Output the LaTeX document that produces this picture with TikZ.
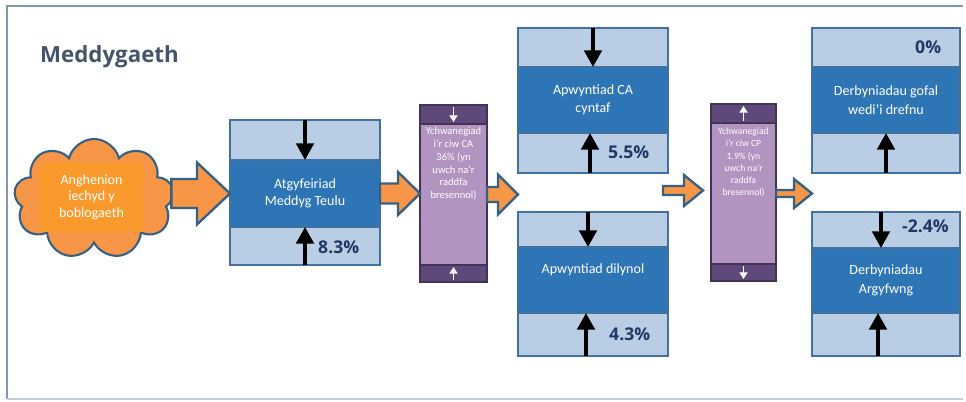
\documentclass[tikz,border=0pt]{standalone}
\usepackage{fontspec}
\setmainfont{Carlito}
\newfontfamily\headfont{Open Sans}
\usetikzlibrary{positioning, calc, arrows.meta, shapes.symbols}
\definecolor{bandlt}{HTML}{B9CDE5}
\definecolor{banddk}{HTML}{2E75B6}
\definecolor{edgeblue}{HTML}{41719C}
\definecolor{pudark}{HTML}{5F497A}
\definecolor{pulight}{HTML}{B294C0}
\definecolor{orangefill}{HTML}{F79646}
\definecolor{orangein}{HTML}{FB9A2C}
\definecolor{titlegrey}{HTML}{44546A}
\definecolor{pctblue}{HTML}{203864}
\definecolor{framegrey}{HTML}{8497B0}

\tikzset{
  band/.style={rectangle, draw=edgeblue, fill=bandlt, line width=1.2pt, minimum width=4.5cm, inner sep=0pt, outer sep=0pt},
  core/.style={rectangle, draw=edgeblue, fill=banddk, line width=1.2pt, minimum width=4.5cm, inner sep=0pt, outer sep=0pt, text=white, align=center, font=\fontsize{12}{15}\selectfont},
  puband/.style={rectangle, draw=pudark!70!black, fill=pudark, line width=1pt, inner sep=0pt, outer sep=0pt},
  pumid/.style={rectangle, draw=pudark!70!black, fill=pulight, line width=1pt, inner sep=0pt, outer sep=0pt},
  putext/.style={text=white, align=center, inner sep=0pt},
  pct/.style={text=pctblue, font=\headfont\bfseries\fontsize{15}{18}\selectfont, anchor=west, inner sep=0pt},
  blk/.style={line width=3.4pt, -{Triangle[width=0.52cm,length=0.5cm]}},
  wht/.style={white, line width=1.6pt, -{Triangle[width=0.24cm,length=0.2cm]}, shorten <=0.06cm, shorten >=0.06cm},
  fatarrow/.style={draw=edgeblue!85!black, fill=orangefill, line width=2pt, line join=miter},
}

% tail, tip, shaft half width, head half width, head length (in px)
\newcommand{\blockarrow}[5]{%
  \coordinate (baS) at (#1);
  \coordinate (baT) at (#2 |- baS);
  \draw[fatarrow] ($(baS)+(0,-#3)$) -- ($(baT)+(-#5,-#3)$) -- ($(baT)+(-#5,-#4)$) -- (baT)
    -- ($(baT)+(-#5,#4)$) -- ($(baT)+(-#5,#3)$) -- ($(baS)+(0,#3)$) -- cycle;}

\begin{document}
\begin{tikzpicture}[x=0.03cm, y=-0.03cm]
\useasboundingbox (0,0) rectangle (966,402);

\draw[framegrey, line width=1.2pt] (963,6) -- (7,6) -- (7,399);
\draw[framegrey!50, line width=1pt] (7,399) -- (963,399);

\node[anchor=west, inner sep=0pt, text=titlegrey, font=\headfont\bfseries\fontsize{19}{22}\selectfont] (title) at (40,57) {Meddygaeth};

% cloud
\node[cloud, cloud puffs=9, aspect=1.3, draw=edgeblue!85!black, fill=orangefill, line width=1.8pt,
      minimum width=4.8cm, minimum height=3.6cm, inner sep=0pt] (cloud) at (94,199) {};
\node[fill=orangein, minimum width=3.09cm, minimum height=2.1cm, text=white, align=center,
      font=\fontsize{12}{14}\selectfont] (needs) at (91.5,197) {Anghenion\\iechyd y\\boblogaeth};

% -------

\node[band, minimum height=1.2cm] (b1t) at (305,140) {};
\node[core, minimum height=2.01cm, below=0pt of b1t] (b1m) {Atgyfeiriad\\Meddyg Teulu};
\node[band, minimum height=1.14cm, below=0pt of b1m] (b1b) {};

\node[puband, minimum width=2.01cm, minimum height=0.57cm] (pu1t) at (453.5,114.5) {};
\node[pumid, minimum width=2.01cm, minimum height=4.23cm, below=0pt of pu1t] (pu1m) {};
\node[puband, minimum width=2.01cm, minimum height=0.51cm, below=0pt of pu1m] (pu1b) {};
\node[putext, font=\fontsize{9}{10.9}\selectfont, below=0.1cm of pu1t] (pu1x) {Ychwanegiad\\i'r ciw CA\\36\% (yn\\uwch na'r\\raddfa\\bresennol)};

\node[band, minimum height=1.17cm] (b2t) at (593,47.5) {};
\node[core, minimum height=1.98cm, below=0pt of b2t] (b2m) {Apwyntiad CA\\cyntaf};
\node[band, minimum height=1.2cm, below=0pt of b2m] (b2b) {};

\node[band, minimum height=1.05cm] (b3t) at (593,229.5) {};
\node[core, minimum height=1.98cm, below=0pt of b3t] (b3m) {Apwyntiad dilynol\\[4pt]~};
\node[band, minimum height=1.29cm, below=0pt of b3m] (b3b) {};

\node[puband, minimum width=1.95cm, minimum height=0.57cm] (pu2t) at (743.5,113.5) {};
\node[pumid, minimum width=1.95cm, minimum height=4.23cm, below=0pt of pu2t] (pu2m) {};
\node[puband, minimum width=1.95cm, minimum height=0.51cm, below=0pt of pu2m] (pu2b) {};
\node[putext, font=\fontsize{8.2}{10.3}\selectfont, below=0.15cm of pu2t] (pu2x) {Ychwanegiad\\i'r ciw CP\\1.9\% (yn\\uwch na'r\\raddfa\\bresennol)};

\node[band, minimum width=4.44cm, minimum height=1.17cm] (b4t) at (886,47.5) {};
\node[core, minimum width=4.44cm, minimum height=1.98cm, below=0pt of b4t, font=\fontsize{12}{16}\selectfont] (b4m) {Derbyniadau gofal\\wedi'i drefnu};
\node[band, minimum width=4.44cm, minimum height=1.2cm, below=0pt of b4m] (b4b) {};

\node[band, minimum width=4.44cm, minimum height=1.08cm] (b5t) at (886,230) {};
\node[core, minimum width=4.44cm, minimum height=1.95cm, below=0pt of b5t, font=\fontsize{12}{16}\selectfont] (b5m) {Derbyniadau\\Argyfwng};
\node[band, minimum width=4.44cm, minimum height=1.29cm, below=0pt of b5m] (b5b) {};

% percentages
\node[pct] (p1) at (318,247) {8.3\%};
\node[pct] (p2) at (608,152) {5.5\%};
\node[pct] (p3) at (609,334) {4.3\%};
\node[pct] (p4) at (915,47) {0\%};
\node[pct] (p5) at (902,226) {-2.4\%};

% black arrows
\draw[blk] (b1t.north) -- (b1t.south);
\draw[blk] (b1b.south) -- (b1b.north);
\draw[blk] (b2t.north) -- (b2t.south);
\draw[blk] ([xshift=-0.09cm]b2b.south) -- ([xshift=-0.09cm]b2b.north);
\draw[blk] ([xshift=-0.15cm]b3t.north) -- ([xshift=-0.15cm]b3t.south);
\draw[blk] ([xshift=-0.21cm]b3b.south) -- ([xshift=-0.21cm]b3b.north);
\draw[blk] (b4b.south) -- (b4b.north);
\draw[blk] ([xshift=-0.15cm]b5t.north) -- ([xshift=-0.15cm]b5t.south);
\draw[blk] ([xshift=-0.24cm]b5b.south) -- ([xshift=-0.24cm]b5b.north);

% white arrows
\draw[wht] (pu1t.north) -- (pu1t.south);
\draw[wht] (pu1b.south) -- (pu1b.north);
\draw[wht] (pu2t.south) -- (pu2t.north);
\draw[wht] (pu2b.north) -- (pu2b.south);

% orange arrows
\coordinate (a1s) at ([xshift=-0.06cm]cloud.east |- b1m.west);
\coordinate (gap23) at ($(b2b.south west)!0.5!(b3t.north west)$);
\coordinate (a4s) at ($(b2b.south east)!0.5!(b3t.north east)+(-5,-2)$);
\coordinate (a4t) at ([xshift=-0.24cm]pu2m.west);
\coordinate (gap45) at ($(b4b.south west)!0.5!(b5t.north west)$);
\blockarrow{a1s}{b1m.west}{14.5}{31}{33}
\blockarrow{b1m.east}{pu1m.west}{10}{21.5}{22}
\blockarrow{pu1m.east}{gap23}{7.5}{20}{20}
\blockarrow{a4s}{a4t}{4.5}{15.5}{19}
\blockarrow{pu2m.east}{gap45}{3.5}{14.5}{18}

\end{tikzpicture}
\end{document}
